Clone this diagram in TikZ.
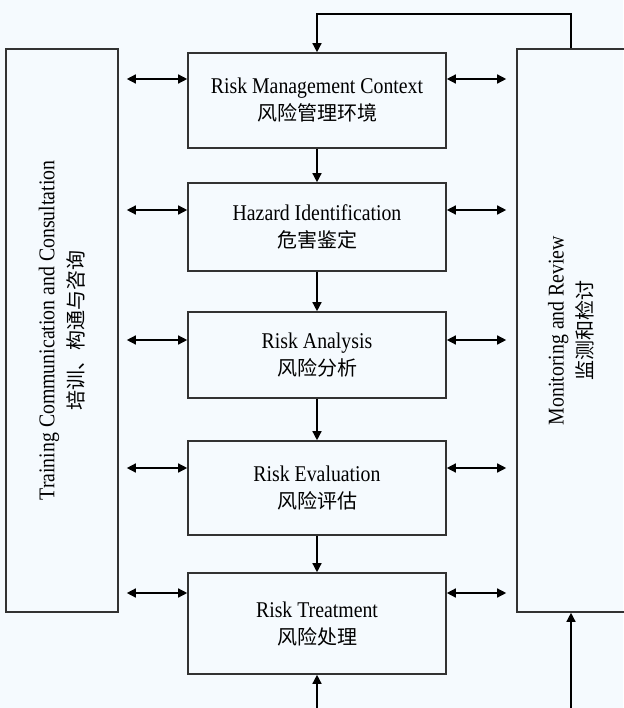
\documentclass[tikz,border=0pt]{standalone}
\usepackage{fontspec}
\setmainfont[FakeStretch=0.88]{Liberation Serif}
\newfontfamily\cjk{Noto Sans CJK SC}
\usetikzlibrary{arrows.meta}
\definecolor{bgc}{RGB}{245,250,254}
\definecolor{boxc}{RGB}{50,50,50}
\tikzset{
  stage/.style={draw=boxc, line width=1.6pt, minimum width=258pt, align=center, inner sep=0pt,
    font=\fontsize{22.5}{27}\selectfont},
  side/.style={draw=boxc, line width=1.6pt, minimum width=#1, minimum height=563pt, inner sep=0pt},
  vlabel/.style={rotate=90, align=center, font=\fontsize{22.5}{29}\selectfont},
  cjkt/.style={},
  arr/.style={line width=1.4pt, -{Triangle[length=9pt,width=9pt]}},
  dar/.style={line width=1.4pt, {Triangle[length=9pt,width=9pt]}-{Triangle[length=9pt,width=9pt]}}
}
\newcommand{\zh}[1]{{\cjk\fontsize{20}{27}\selectfont #1}}
\begin{document}
\begin{tikzpicture}[x=1pt,y=-1pt]
\fill[bgc] (0,0) rectangle (623,708);
\useasboundingbox (0,0) rectangle (623,708);
% side boxes
\node[side=112pt] (L) at (62,330.5) {};
\node[side=108pt] (R) at (571,330.5) {};
\node[vlabel] (Lt) at (L.center) {Training Communication and Consultation\\\zh{培训、构通与咨询}};
\node[vlabel] (Rt) at (R.center) {Monitoring and Review\\\zh{监测和检讨}};
% stages
\node[stage, minimum height=95pt] (b1) at (317,100.5) {Risk Management Context\\\zh{风险管理环境}};
\node[stage, minimum height=88pt] (b2) at (317,227) {Hazard Identification\\\zh{危害鉴定}};
\node[stage, minimum height=86pt] (b3) at (317,355) {Risk Analysis\\\zh{风险分析}};
\node[stage, minimum height=94pt] (b4) at (317,488) {Risk Evaluation\\\zh{风险评估}};
\node[stage, minimum height=101pt] (b5) at (317,623.5) {Risk Treatment\\\zh{风险处理}};
% flow
\draw[arr] (b1.south) -- (b2.north);
\draw[arr] (b2.south) -- (b3.north);
\draw[arr] (b3.south) -- (b4.north);
\draw[arr] (b4.south) -- (b5.north);
% feedback loop on top
\coordinate (top) at (0,14);
\draw[arr] (R.north) -- (R.north |- top) -- (b1.north |- top) -- (b1.north);
% bottom inputs
\coordinate (bot) at (0,712);
\draw[arr] (b5.south |- bot) -- (b5.south);
\draw[arr] (R.south |- bot) -- (R.south);
% side exchanges
\foreach \b/\y in {b1/79, b2/210, b3/340, b4/468, b5/593}{
  \coordinate (y\b) at (0,\y);
  \draw[dar] ([xshift=8pt]L.east |- y\b) -- (\b.west |- y\b);
  \draw[dar] (\b.east |- y\b) -- ([xshift=-10pt]R.west |- y\b);
}
\end{tikzpicture}
\end{document}
